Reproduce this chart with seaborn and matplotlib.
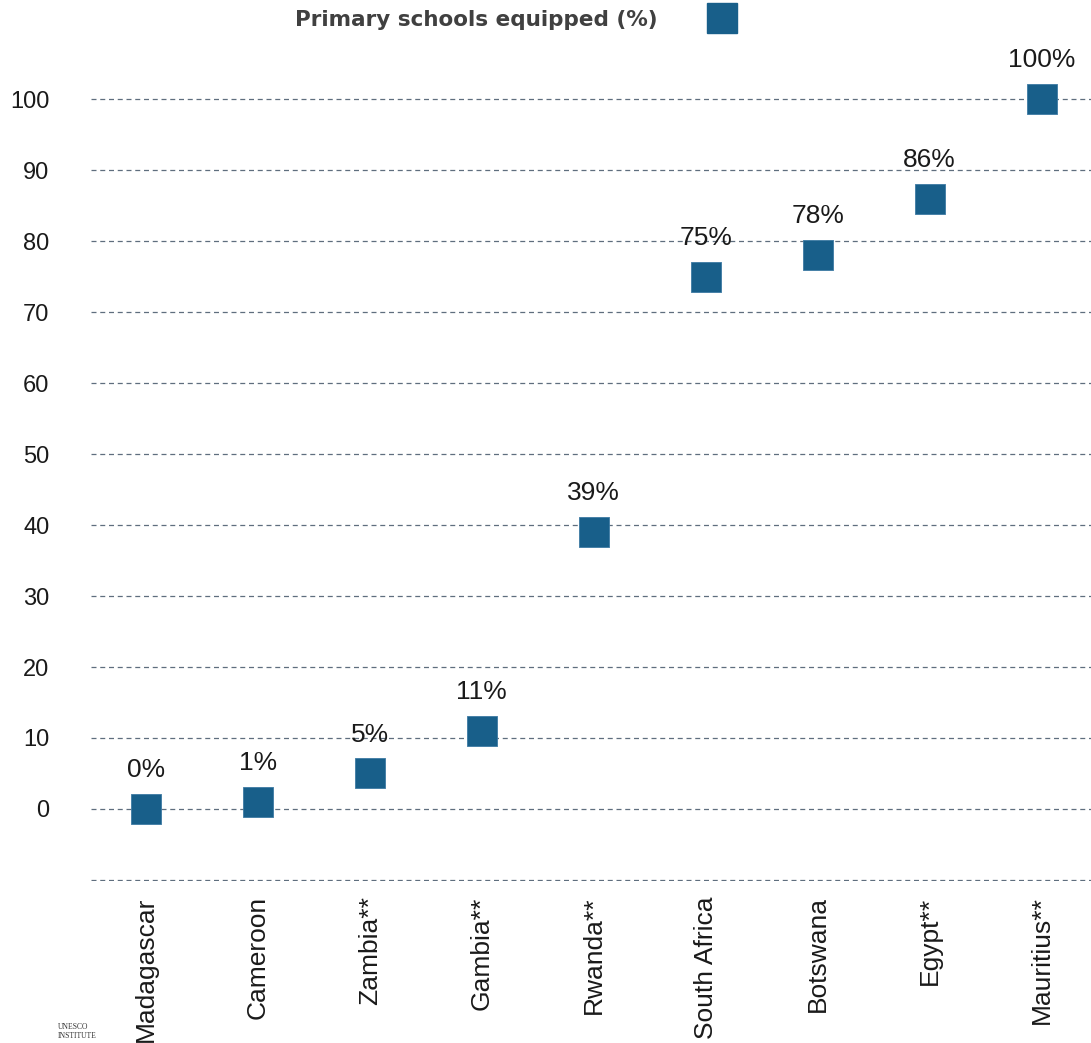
import matplotlib
matplotlib.use("Agg")
import matplotlib.pyplot as plt
import seaborn as sns
import pandas as pd
from matplotlib.lines import Line2D

countries = ["Madagascar", "Cameroon", "Zambia**", "Gambia**", "Rwanda**",
             "South Africa", "Botswana", "Egypt**", "Mauritius**"]
values = [0, 1, 5, 11, 39, 75, 78, 86, 100]
series_name = "Primary schools equipped (%)"
ytick_vals = list(range(-10, 101, 10))
ytick_labels = [""] + [str(v) for v in range(0, 101, 10)]

color = "#185f8a"

sns.set_theme(style="white")
plt.rcParams['font.family'] = ['Liberation Sans', 'DejaVu Sans']

df = pd.DataFrame({"country": countries, "value": values})
df["pos"] = range(len(df))

fig = plt.figure(figsize=(10.91, 10.43), dpi=100)
ax = fig.add_axes([0.0834, 0.1553, 0.9166, 0.8177])

sns.scatterplot(data=df, x="pos", y="value", marker="s", s=470,
                color=color, edgecolor="#3d7aa3", linewidth=0.6, ax=ax,
                zorder=3, legend=False)

for x, v in zip(df["pos"], df["value"]):
    ax.annotate(f"{v}%", (x, v), xytext=(0, 28), textcoords="offset points",
                ha="center", va="center", fontsize=19, color="#1a1a1a")

ax.set_xlim(-0.49, 8.44)
ax.set_ylim(-10.15, 110)
ax.set_yticks(ytick_vals)
ax.set_yticklabels(ytick_labels, fontsize=17, color="#1a1a1a")
ax.set_xticks(df["pos"])
ax.set_xticklabels(countries, rotation=90, fontsize=19, color="#1a1a1a")
ax.tick_params(axis="y", length=0, pad=30)
ax.tick_params(axis="x", length=0, pad=11)
for lbl in ax.get_yticklabels():
    lbl.set_horizontalalignment("right")
ax.yaxis.grid(True, linestyle=(0, (4, 3)), color="#5f6e7e", linewidth=0.9)
ax.xaxis.grid(False)
for sp in ax.spines.values():
    sp.set_visible(False)
ax.set_xlabel("")
ax.set_ylabel("")

handle = Line2D([], [], marker="s", linestyle="none", markersize=21,
                markerfacecolor=color, markeredgecolor=color)
fig.legend([handle], [series_name], loc="center", bbox_to_anchor=(0.476, 0.981),
           frameon=False, markerfirst=False, handletextpad=2.0,
           prop={"family": "DejaVu Sans", "weight": "bold", "size": 15.5},
           labelcolor="#404040")

fig.text(0.053, 0.003, "UNESCO\nINSTITUTE", fontsize=5.5, family="Liberation Serif",
         color="#333333", ha="left", va="bottom", linespacing=1.1)

fig.savefig("out.png", dpi=100)
